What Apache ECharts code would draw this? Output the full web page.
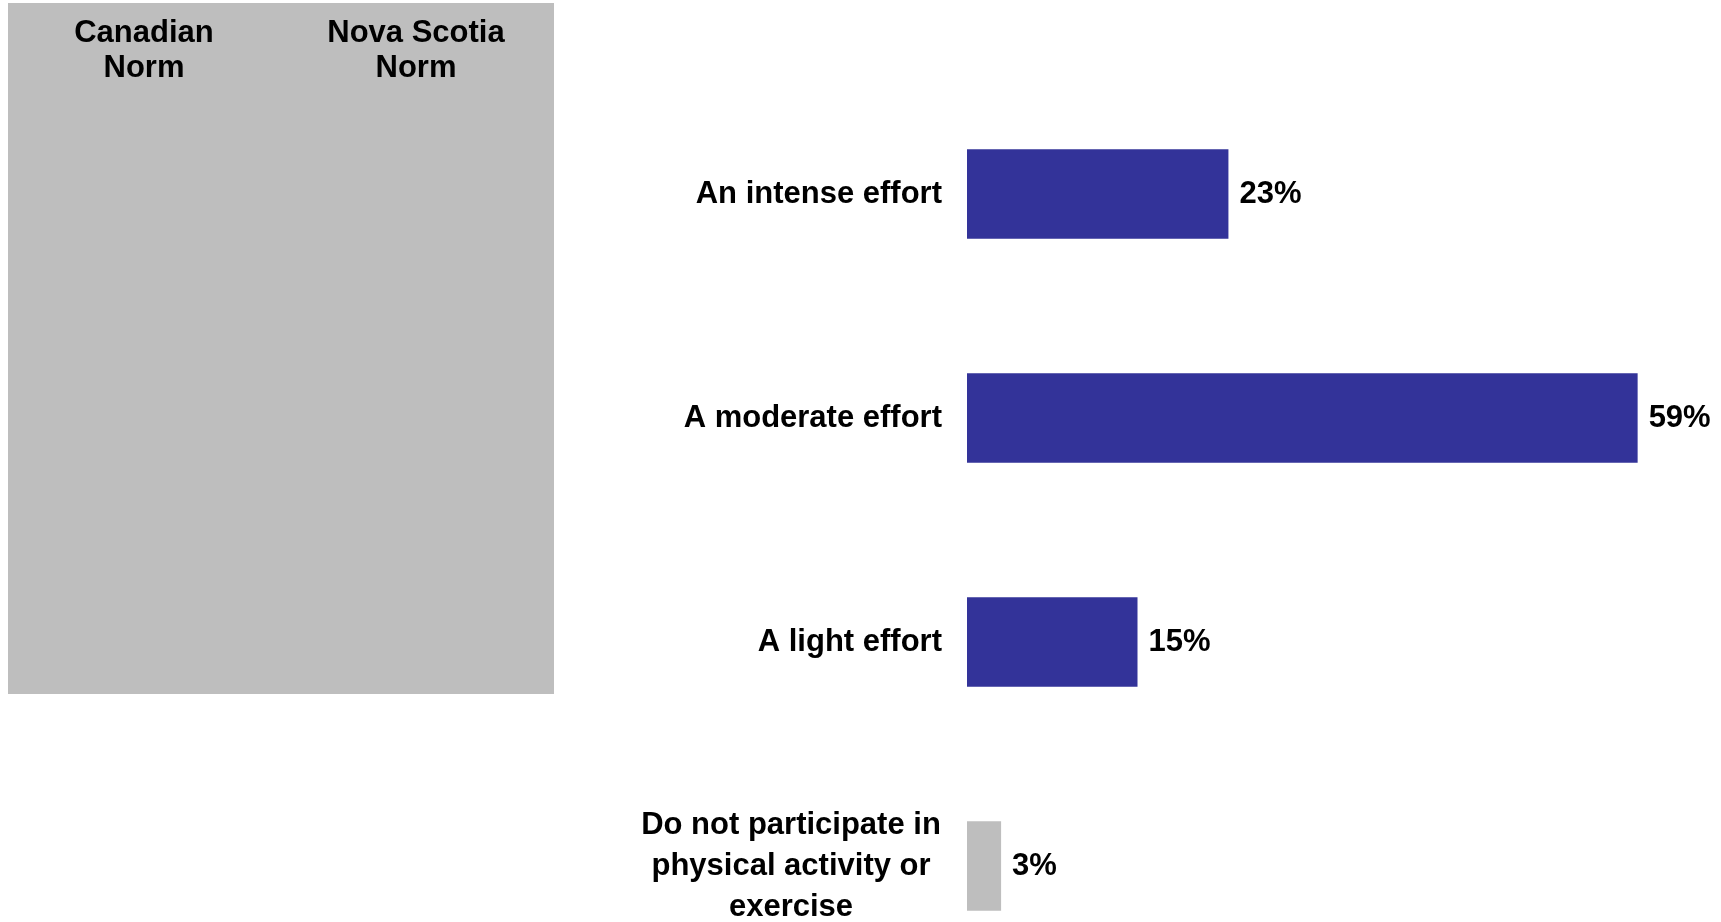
<!DOCTYPE html>
<html>
<head>
<meta charset="utf-8">
<script src="https://cdn.jsdelivr.net/npm/echarts@6/dist/echarts.min.js"></script>
<style>
html,body{margin:0;padding:0;background:#fff;overflow:hidden;}
#chart{width:1721px;height:1000px;}
</style>
</head>
<body>
<div id="chart"></div>
<script>
const categories = ['An intense effort', 'A moderate effort', 'A light effort', 'Do not participate in physical activity or exercise'];
const values = [23, 59, 15, 3];
const barColors = ['#333399', '#333399', '#333399', '#BEBEBE'];
const panelHeaders = ['Canadian\nNorm', 'Nova Scotia\nNorm'];

function pickFont() {
  const c = document.createElement('canvas').getContext('2d');
  const s = 'An intense effort 23%';
  c.font = "bold 38px monospace";
  const a = c.measureText(s).width;
  c.font = "bold 38px 'Liberation Sans Narrow', monospace";
  const b = c.measureText(s).width;
  if (Math.abs(a - b) > 1) return {family: "'Liberation Sans Narrow', 'Arial Narrow'", size: 38};
  return {family: "'Liberation Sans', Arial", size: 31};
}
const F = pickFont();

const chart = echarts.init(document.getElementById('chart'));
const option = {
  animation: false,
  backgroundColor: '#ffffff',
  graphic: [
    {type: 'rect', shape: {x: 8, y: 3, width: 546, height: 691}, style: {fill: '#BEBEBE'}, z: 0},
    {type: 'text', x: 144, y: 16, style: {text: panelHeaders[0], font: 'bold ' + F.size + 'px ' + F.family, fill: '#000', textAlign: 'center', lineHeight: 35}, z: 1},
    {type: 'text', x: 416, y: 16, style: {text: panelHeaders[1], font: 'bold ' + F.size + 'px ' + F.family, fill: '#000', textAlign: 'center', lineHeight: 35}, z: 1}
  ],
  grid: {left: 967, top: 82, width: 682, height: 896, containLabel: false},
  xAxis: {type: 'value', min: 0, max: 60, show: false},
  yAxis: {
    type: 'category',
    inverse: true,
    data: categories,
    axisLine: {show: false},
    axisTick: {show: false},
    axisLabel: {
      margin: 25,
      color: '#000',
      fontWeight: 'bold',
      fontFamily: F.family,
      fontSize: F.size,
      lineHeight: 41,
      formatter: function (v, i) {
        if (i === 3) {
          return '{c|Do not participate in}\n{c|physical activity or}\n{c|exercise}';
        }
        return v;
      },
      rich: {
        c: {width: 302, align: 'center', fontWeight: 'bold', fontFamily: F.family, fontSize: F.size, lineHeight: 41, color: '#000'}
      }
    }
  },
  series: [{
    type: 'bar',
    barWidth: '40%',
    data: values.map((v, i) => ({value: v, itemStyle: {color: barColors[i]}})),
    label: {
      show: true,
      position: 'right',
      distance: 11,
      formatter: '{c}%',
      color: '#000',
      fontWeight: 'bold',
      fontFamily: F.family,
      fontSize: F.size
    }
  }]
};
chart.setOption(option);
</script>
</body>
</html>
